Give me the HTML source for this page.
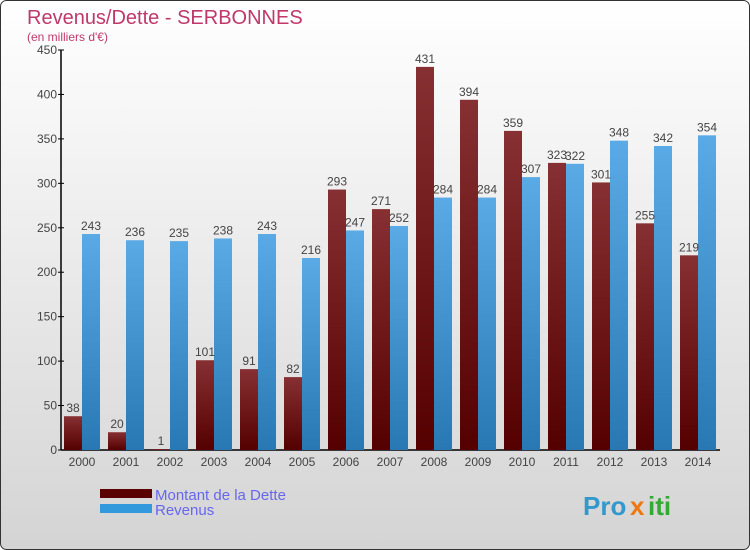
<!DOCTYPE html>
<html><head><meta charset="utf-8"><style>
body{margin:0;width:750px;height:550px;overflow:hidden;font-family:"Liberation Sans",sans-serif}
svg{display:block}
</style></head><body>
<svg width="750" height="550">
<defs>
<linearGradient id="bg" x1="0" y1="0" x2="0" y2="1"><stop offset="0" stop-color="#ffffff"/><stop offset="1" stop-color="#d4d4d4"/></linearGradient>
<linearGradient id="gd" x1="0" y1="0" x2="0" y2="1"><stop offset="0" stop-color="#873033"/><stop offset="1" stop-color="#550000"/></linearGradient>
<linearGradient id="gr" x1="0" y1="0" x2="0" y2="1"><stop offset="0" stop-color="#5aaae6"/><stop offset="1" stop-color="#2878b4"/></linearGradient>
</defs>
<rect x="0.5" y="0.5" width="749" height="549" rx="6" fill="url(#bg)" stroke="#333"/>
<text x="27" y="24" font-size="20" fill="#c0386a">Revenus/Dette - SERBONNES</text>
<text x="27" y="41" font-size="12" fill="#c0386a">(en milliers d'€)</text>
<g id="axes"></g>
<g id="bars"></g>
<rect x="100" y="489" width="52" height="9" fill="#5a0000"/>
<rect x="100" y="504" width="52" height="9" fill="#3399dd"/>
<text x="155" y="500" font-size="15" fill="#6666ee">Montant de la Dette</text>
<text x="155" y="515" font-size="15" fill="#6666ee">Revenus</text>
<g font-size="26" font-weight="bold">
<text x="583" y="515" fill="#3399cc">Pro</text><text x="630" y="515" fill="#ee7711">x</text><text x="648" y="515" fill="#33aa33">iti</text>
</g>
</svg>
<script>
const years=["2000","2001","2002","2003","2004","2005","2006","2007","2008","2009","2010","2011","2012","2013","2014"];
const dette=[38,20,1,101,91,82,293,271,431,394,359,323,301,255,219];
const revenus=[243,236,235,238,243,216,247,252,284,284,307,322,348,342,354];
const ticks=[0,50,100,150,200,250,300,350,400,450];
const NS="http://www.w3.org/2000/svg";
const y=v=>450-v*400/450;
const x=i=>64+i*44;
function mk(t,a,p){const e=document.createElementNS(NS,t);for(const k in a)e.setAttribute(k,a[k]);p.appendChild(e);return e;}
const ax=document.getElementById('axes'),bs=document.getElementById('bars');
const yl=mk('line',{x1:61,y1:50,x2:61,y2:450,stroke:'#000','stroke-width':1.5},ax);


const xl=mk('line',{x1:61,y1:450,x2:720,y2:450,stroke:'#000','stroke-width':1.5},ax);


ticks.forEach(t=>{
 mk('line',{x1:58,x2:64,y1:y(t),y2:y(t),stroke:'#000'},ax);
 const tx=mk('text',{x:57,y:y(t)+4,'font-size':12,fill:'#444','text-anchor':'end'},ax);tx.textContent=t;
 
 
});
years.forEach((yr,i)=>{
 const tx=mk('text',{x:x(i)+18,y:466,'font-size':12,fill:'#444','text-anchor':'middle'},ax);tx.textContent=yr;
 
 
 const d=mk('rect',{x:x(i),y:y(dette[i]),width:18,height:450-y(dette[i]),fill:'url(#gd)'},bs);
 
 
 const r=mk('rect',{x:x(i)+18,y:y(revenus[i]),width:18,height:450-y(revenus[i]),fill:'url(#gr)'},bs);
 
 
 const l1=mk('text',{x:x(i)+9,y:y(dette[i])-4,'font-size':12,fill:'#444','text-anchor':'middle'},bs);l1.textContent=dette[i];
 
 
 const l2=mk('text',{x:x(i)+27,y:y(revenus[i])-4,'font-size':12,fill:'#444','text-anchor':'middle'},bs);l2.textContent=revenus[i];
 
 
});
</script>
</body></html>
